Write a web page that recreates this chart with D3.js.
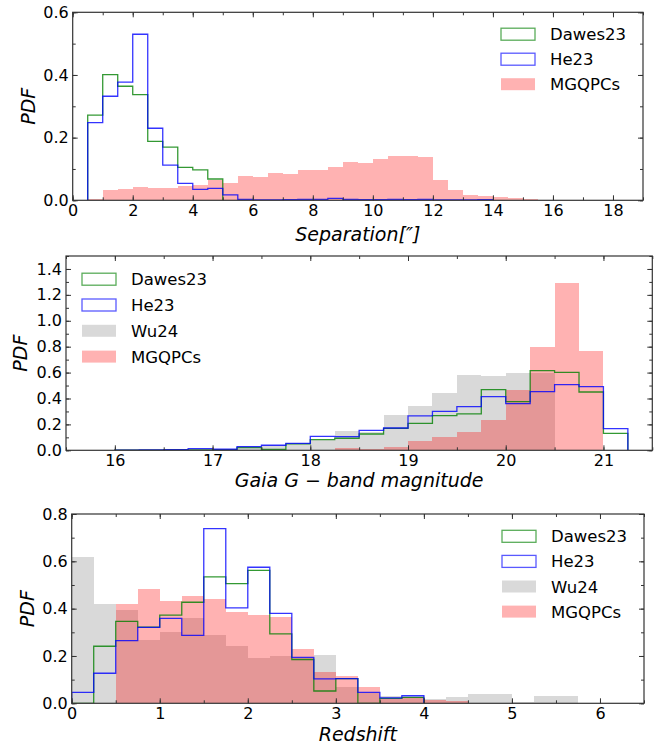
<!DOCTYPE html>
<html>
<head>
<meta charset="utf-8">
<script src="https://cdn.jsdelivr.net/npm/d3@7"></script>
<style>
  body { margin: 0; background: #fff; }
  text { font-family: "DejaVu Sans", sans-serif; fill: #000; }
  .tick-label { font-size: 16px; }
  .axis-title { font-size: 19px; font-style: italic; }
  .legend-text { font-size: 16.5px; }
</style>
</head>
<body>
<div class="chart"></div>
<script>
// DATA ------------------------------------
// each series: values per bin, bins start at the given edge, fixed bin width

// panel 1: separation, bin width 0.5
const sepStart = 0.5;
const sepWidth = 0.5;
const sepDawes = [0.272, 0.401, 0.364, 0.337, 0.188, 0.170, 0.105, 0.097, 0.068];
const sepHe = [0.248, 0.332, 0.377, 0.530, 0.230, 0.112, 0.054, 0.035, 0.038, 0.017,
  0.003, 0.001, 0.001, 0.002, 0.003, 0.003, 0.006, 0.003, 0.002, 0.002, 0.003, 0.002,
  0.003, 0.001, 0.001, 0.001, 0.002];
const sepMgqpc = [0.005, 0.033, 0.036, 0.043, 0.040, 0.039, 0.046, 0.050, 0.064, 0.054,
  0.076, 0.074, 0.086, 0.084, 0.097, 0.097, 0.106, 0.123, 0.118, 0.133, 0.140, 0.141,
  0.137, 0.065, 0.032, 0.017, 0.014, 0.012, 0.006, 0.003, 0.002];

// panel 2: Gaia G magnitude, bin width 0.25
const magWidth = 0.25;
const magDawesStart = 16.0;
const magDawes = [0.002, 0.002, 0.003, 0.004, 0.004, 0.020, 0.006, 0.049, 0.082, 0.093,
  0.126, 0.170, 0.208, 0.268, 0.281, 0.468, 0.376, 0.615, 0.602, 0.450, 0.131];
const magHeStart = 16.0;
const magHe = [0.002, 0.003, 0.005, 0.013, 0.008, 0.028, 0.039, 0.054, 0.108, 0.105,
  0.154, 0.172, 0.265, 0.301, 0.337, 0.414, 0.360, 0.453, 0.507, 0.492, 0.167];
const magWuStart = 15.75;
const magWu = [0.006, 0.004, 0.004, 0.005, 0.006, 0.010, 0.030, 0.040, 0.046, 0.080,
  0.150, 0.144, 0.270, 0.342, 0.440, 0.579, 0.574, 0.594, 0.600];
const magMgqpcStart = 18.0;
const magMgqpc = [0.005, 0.015, 0.010, 0.028, 0.072, 0.103, 0.142, 0.232, 0.468, 0.800,
  1.294, 0.770];

// panel 3: redshift, bin width 0.25
const zWidth = 0.25;
const zDawesStart = 0.0;
const zDawes = [0.0, 0.241, 0.346, 0.322, 0.373, 0.427, 0.534, 0.506, 0.562, 0.293,
  0.185, 0.052, 0.104, 0.0, 0.021, 0.025];
const zHeStart = 0.0;
const zHe = [0.046, 0.127, 0.265, 0.321, 0.359, 0.287, 0.738, 0.403, 0.575, 0.380,
  0.194, 0.103, 0.104, 0.046, 0.023, 0.032];
const zWuStart = 0.0;
const zWu = [0.620, 0.418, 0.394, 0.268, 0.303, 0.360, 0.290, 0.242, 0.190, 0.200,
  0.190, 0.206, 0.070, 0.045, 0.030, 0.025, 0.017, 0.027, 0.039, 0.039, 0.006, 0.030,
  0.030, 0.003, 0.003];
const zMgqpcStart = 0.5;
const zMgqpc = [0.421, 0.482, 0.432, 0.455, 0.441, 0.386, 0.373, 0.363, 0.228, 0.134,
  0.115, 0.068, 0.018, 0.025, 0.014, 0.010];

const legendNames3 = ["Dawes23", "He23", "MGQPCs"];
const legendNames4 = ["Dawes23", "He23", "Wu24", "MGQPCs"];

// STYLE -----------------------------------
const styles = {
  Dawes23: { type: "line", color: "green", opacity: 0.8 },
  He23: { type: "line", color: "blue", opacity: 0.8 },
  Wu24: { type: "fill", color: "gray", opacity: 0.3 },
  MGQPCs: { type: "fill", color: "red", opacity: 0.3 }
};

const svg = d3
  .select(".chart")
  .append("svg")
  .attr("width", 666)
  .attr("height", 746);

// PANEL FUNCTION --------------------------
function panel(cfg) {
  const x = d3.scaleLinear().domain(cfg.xDomain).range([cfg.left, cfg.right]);
  const y = d3.scaleLinear().domain(cfg.yDomain).range([cfg.bottom, cfg.top]);

  const g = svg.append("g");
  const clipId = "clip" + cfg.id;
  g.append("clipPath")
    .attr("id", clipId)
    .append("rect")
    .attr("x", cfg.left)
    .attr("y", cfg.top)
    .attr("width", cfg.right - cfg.left)
    .attr("height", cfg.bottom - cfg.top);

  const plot = g.append("g").attr("clip-path", `url(#${clipId})`);

  // filled histograms first
  cfg.series
    .filter((s) => styles[s.name].type === "fill")
    .forEach((s) => {
      const st = styles[s.name];
      plot
        .append("g")
        .selectAll("rect")
        .data(s.values)
        .join("rect")
        .attr("x", (d, i) => x(s.start + i * s.width))
        .attr("width", (d, i) => x(s.start + (i + 1) * s.width) - x(s.start + i * s.width))
        .attr("y", (d) => y(d))
        .attr("height", (d) => y(0) - y(d))
        .attr("fill", st.color)
        .attr("fill-opacity", st.opacity)
        .attr("shape-rendering", "crispEdges");
    });

  // step outlines on top
  const line = d3
    .line()
    .x((d) => x(d[0]))
    .y((d) => y(d[1]));

  cfg.series
    .filter((s) => styles[s.name].type === "line")
    .forEach((s) => {
      const st = styles[s.name];
      const pts = [[s.start, 0]];
      s.values.forEach((v, i) => {
        pts.push([s.start + i * s.width, v]);
        pts.push([s.start + (i + 1) * s.width, v]);
      });
      pts.push([s.start + s.values.length * s.width, 0]);
      plot
        .append("path")
        .attr("d", line(pts))
        .attr("fill", "none")
        .attr("stroke", st.color)
        .attr("stroke-opacity", st.opacity)
        .attr("stroke-width", 1.3);
    });

  // axes: ticks inward on all four sides
  const xMajor = d3.range(cfg.xMajor[0], cfg.xMajor[1] + 1e-9, cfg.xMajor[2]);
  const xMinor = d3.range(cfg.xDomain[0], cfg.xDomain[1] + 1e-9, cfg.xMinor);
  const yMajor = d3.range(cfg.yDomain[0], cfg.yMajorMax + 1e-9, 0.2);
  const yMinor = d3.range(cfg.yDomain[0], cfg.yDomain[1] + 1e-9, 0.1);

  const axes = [
    { axis: d3.axisBottom(x), tr: `translate(0,${cfg.bottom})`, maj: xMajor, min: xMinor, labels: true },
    { axis: d3.axisTop(x), tr: `translate(0,${cfg.top})`, maj: xMajor, min: xMinor, labels: false },
    { axis: d3.axisLeft(y), tr: `translate(${cfg.left},0)`, maj: yMajor, min: yMinor, labels: true },
    { axis: d3.axisRight(y), tr: `translate(${cfg.right},0)`, maj: yMajor, min: yMinor, labels: false }
  ];

  axes.forEach((a, k) => {
    const isY = k >= 2;
    const fmt = isY ? d3.format(".1f") : d3.format("d");
    g.append("g")
      .attr("transform", a.tr)
      .call(a.axis.tickValues(a.min).tickSize(-3).tickFormat(""))
      .call((s) => s.select(".domain").remove())
      .selectAll("line")
      .attr("stroke", "#333");
    const ga = g
      .append("g")
      .attr("transform", a.tr)
      .call(
        a.axis
          .tickValues(a.maj)
          .tickSize(-5)
          .tickPadding(a.labels ? 4 : 0)
          .tickFormat(a.labels ? fmt : "")
      );
    ga.select(".domain").remove();
    ga.selectAll("line").attr("stroke", "#333");
    ga.selectAll("text")
      .attr("class", "tick-label")
      .attr("font-size", null)
      .attr("font-family", null);
  });

  g.append("rect")
    .attr("x", cfg.left)
    .attr("y", cfg.top)
    .attr("width", cfg.right - cfg.left)
    .attr("height", cfg.bottom - cfg.top)
    .attr("fill", "none")
    .attr("stroke", "#333")
    .attr("stroke-width", 1.2);

  // axis titles
  g.append("text")
    .attr("class", "axis-title")
    .attr("text-anchor", "middle")
    .attr("x", (cfg.left + cfg.right) / 2)
    .attr("y", cfg.xTitleY)
    .text(cfg.xTitle);

  g.append("text")
    .attr("class", "axis-title")
    .attr("text-anchor", "middle")
    .attr("transform", `translate(${cfg.yTitleX},${(cfg.top + cfg.bottom) / 2}) rotate(-90)`)
    .text("PDF");

  // legend
  const leg = g
    .append("g")
    .selectAll("g")
    .data(cfg.legend)
    .join("g")
    .attr("transform", (d, i) => `translate(${cfg.legX},${cfg.legY + i * cfg.legStep})`);

  leg.append("rect")
    .attr("x", 0)
    .attr("y", -6)
    .attr("width", 34)
    .attr("height", 12)
    .attr("fill", (d) => (styles[d].type === "fill" ? styles[d].color : "none"))
    .attr("fill-opacity", (d) => styles[d].opacity)
    .attr("stroke", (d) => (styles[d].type === "line" ? styles[d].color : "none"))
    .attr("stroke-opacity", 0.65)
    .attr("stroke-width", 1.3);

  leg.append("text")
    .attr("class", "legend-text")
    .attr("x", 49)
    .attr("y", 6)
    .text((d) => d);
}

// PANELS ----------------------------------
panel({
  id: 1,
  left: 72.7, right: 643, top: 12.3, bottom: 200.3,
  xDomain: [0, 19], xMajor: [0, 18, 2], xMinor: 1,
  yDomain: [0, 0.6], yMajorMax: 0.6,
  xTitle: "Separation[″]", xTitleY: 240.5, yTitleX: 35,
  legend: legendNames3, legX: 501, legY: 34.2, legStep: 25,
  series: [
    { name: "MGQPCs", start: sepStart, width: sepWidth, values: sepMgqpc },
    { name: "Dawes23", start: sepStart, width: sepWidth, values: sepDawes },
    { name: "He23", start: sepStart, width: sepWidth, values: sepHe }
  ]
});

panel({
  id: 2,
  left: 66, right: 652.3, top: 256, bottom: 450.3,
  xDomain: [15.5, 21.5], xMajor: [16, 21, 1], xMinor: 0.5,
  yDomain: [0, 1.5], yMajorMax: 1.4,
  xTitle: "Gaia G − band magnitude", xTitleY: 487, yTitleX: 27,
  legend: legendNames4, legX: 82, legY: 279.2, legStep: 25.8,
  series: [
    { name: "Wu24", start: magWuStart, width: magWidth, values: magWu },
    { name: "MGQPCs", start: magMgqpcStart, width: magWidth, values: magMgqpc },
    { name: "Dawes23", start: magDawesStart, width: magWidth, values: magDawes },
    { name: "He23", start: magHeStart, width: magWidth, values: magHe }
  ]
});

panel({
  id: 3,
  left: 71.7, right: 644, top: 514, bottom: 703.3,
  xDomain: [0, 6.5], xMajor: [0, 6, 1], xMinor: 0.5,
  yDomain: [0, 0.8], yMajorMax: 0.8,
  xTitle: "Redshift", xTitleY: 740.7, yTitleX: 34,
  legend: legendNames4, legX: 502, legY: 536.3, legStep: 25.1,
  series: [
    { name: "Wu24", start: zWuStart, width: zWidth, values: zWu },
    { name: "MGQPCs", start: zMgqpcStart, width: zWidth, values: zMgqpc },
    { name: "Dawes23", start: zDawesStart, width: zWidth, values: zDawes },
    { name: "He23", start: zHeStart, width: zWidth, values: zHe }
  ]
});
</script>
</body>
</html>
